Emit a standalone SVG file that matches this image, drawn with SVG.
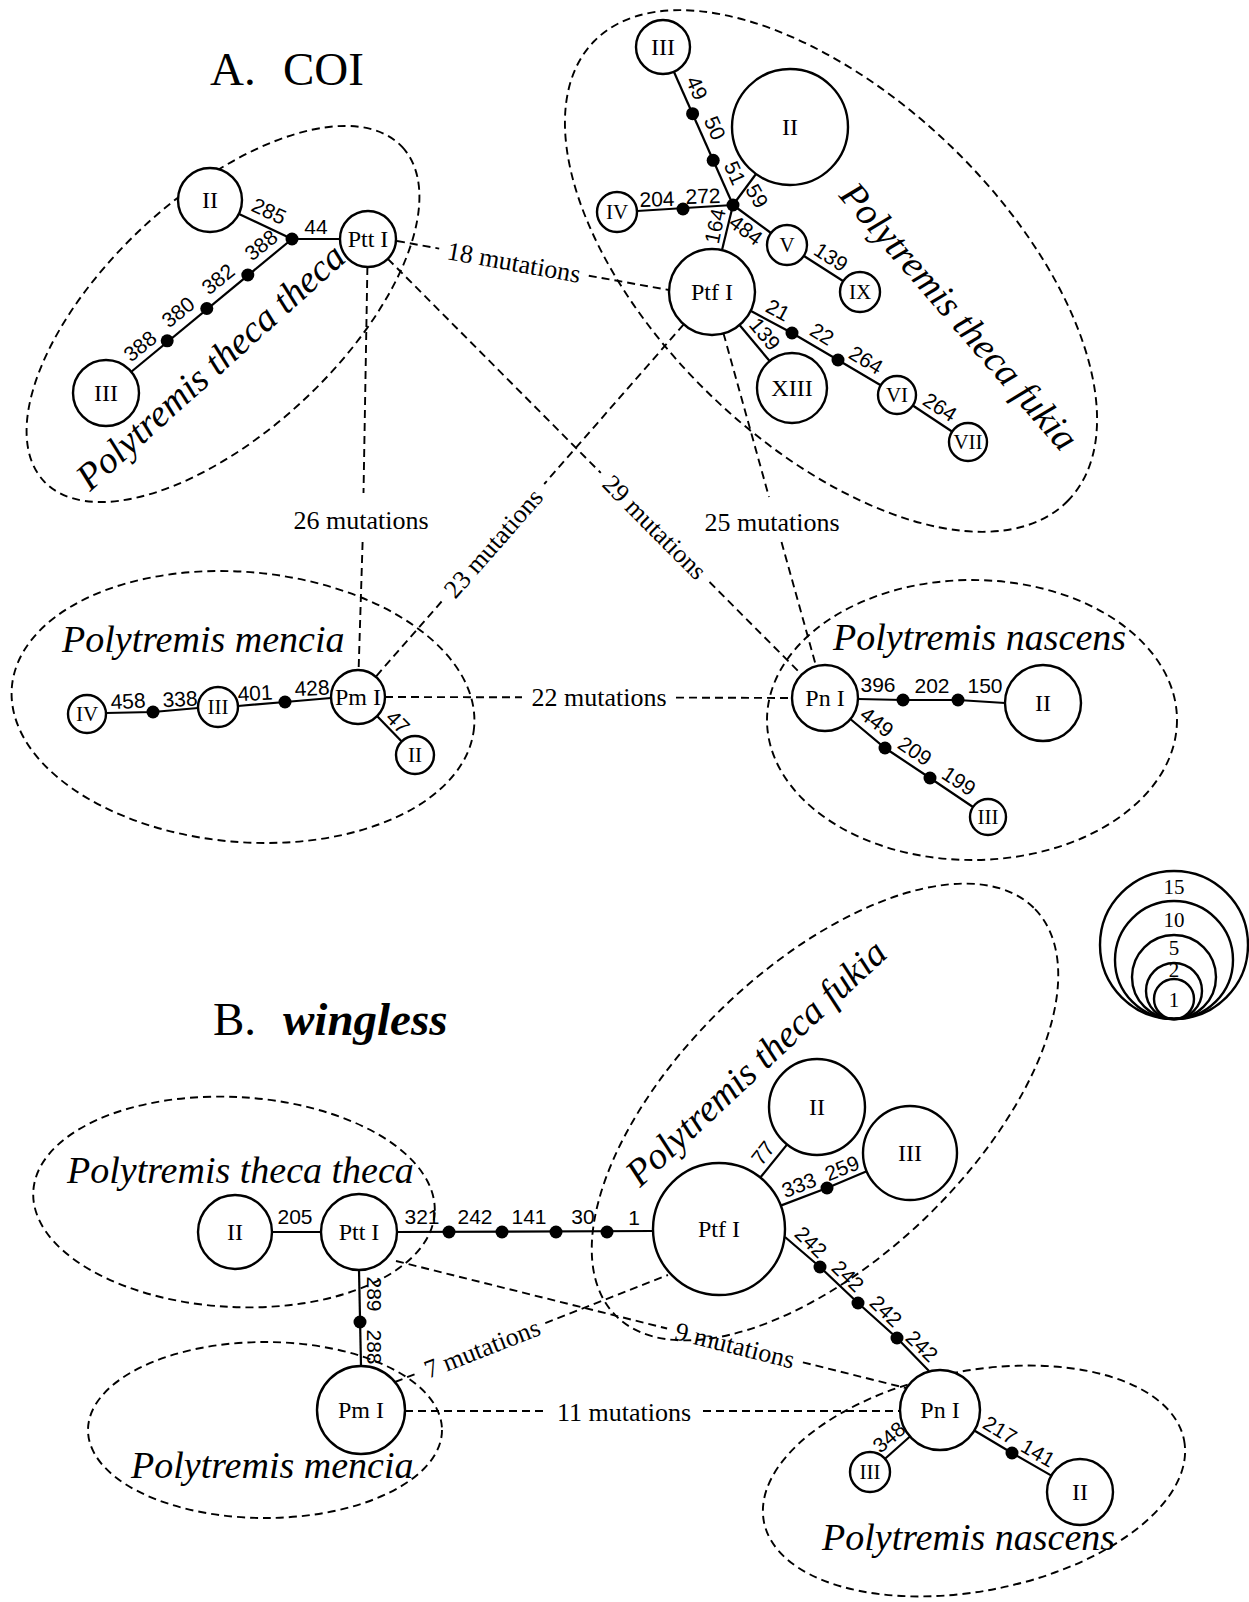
<svg xmlns="http://www.w3.org/2000/svg" width="1249" height="1602" viewBox="0 0 1249 1602">
<style>
.node{fill:#fff;stroke:#000;stroke-width:2.4}
.ring{fill:none;stroke:#000;stroke-width:2.4}
.dot{fill:#000}
.edge{stroke:#000;stroke-width:2.2;fill:none}
.dash{stroke:#000;stroke-width:1.9;stroke-dasharray:8 5;fill:none}
.grp{fill:none;stroke:#000;stroke-width:1.9;stroke-dasharray:8 5}
.nl{font-family:"Liberation Serif",serif;font-size:24px;text-anchor:middle}
.ns{font-family:"Liberation Serif",serif;font-size:21px;text-anchor:middle}
.ml{font-family:"Liberation Sans",sans-serif;font-size:21px;text-anchor:middle}
.mut{font-family:"Liberation Serif",serif;font-size:26px;text-anchor:middle}
.sp{font-family:"Liberation Serif",serif;font-size:38px;font-style:italic}
.title{font-family:"Liberation Serif",serif;font-size:47px}
.lg{font-family:"Liberation Serif",serif;font-size:21px;text-anchor:middle}
</style>
<rect width="1249" height="1602" fill="#fff"/>

<!-- titles -->
<text class="title" x="210" y="85">A.<tspan x="283">COI</tspan></text>
<text class="title" x="213" y="1035">B.<tspan x="283" font-weight="bold" font-style="italic">wingless</tspan></text>

<!-- group ellipses -->
<g id="groups">
<ellipse class="grp" cx="223" cy="314" rx="245" ry="118" transform="rotate(-43 223 314)"/>
<ellipse class="grp" cx="831" cy="271" rx="330" ry="173" transform="rotate(44 831 271)"/>
<ellipse class="grp" cx="243" cy="707" rx="232" ry="135" transform="rotate(5 243 707)"/>
<ellipse class="grp" cx="972" cy="720" rx="205" ry="140"/>
<ellipse class="grp" cx="234" cy="1202" rx="201" ry="105" transform="rotate(3 234 1202)"/>
<ellipse class="grp" cx="825" cy="1112" rx="292" ry="146" transform="rotate(-44 825 1112)"/>
<ellipse class="grp" cx="265" cy="1430" rx="177" ry="88"/>
<ellipse class="grp" cx="974" cy="1481" rx="214" ry="110" transform="rotate(-11 974 1481)"/>
</g>

<!-- species labels -->
<g id="species">
<text class="sp" transform="translate(90 492) rotate(-42)">Polytremis theca theca</text>
<text class="sp" transform="translate(838 196) rotate(49)">Polytremis theca fukia</text>
<text class="sp" x="62" y="652">Polytremis mencia</text>
<text class="sp" x="833" y="650">Polytremis nascens</text>
<text class="sp" x="67" y="1183">Polytremis theca theca</text>
<text class="sp" font-size="46" transform="translate(640 1188) rotate(-43)">Polytremis theca fukia</text>
<text class="sp" x="131" y="1478">Polytremis mencia</text>
<text class="sp" x="822" y="1550">Polytremis nascens</text>
</g>

<!-- connectors -->
<g id="connectors">
<!-- A solid -->
<line class="edge" x1="239" y1="214" x2="292" y2="239"/>
<line class="edge" x1="292" y1="239" x2="340" y2="239"/>
<line class="edge" x1="292" y1="239" x2="131" y2="372"/>
<line class="edge" x1="674" y1="72" x2="733" y2="205"/>
<line class="edge" x1="756" y1="174" x2="733" y2="205"/>
<line class="edge" x1="637" y1="211" x2="733" y2="205"/>
<line class="edge" x1="733" y1="205" x2="722" y2="250"/>
<line class="edge" x1="733" y1="205" x2="771" y2="233"/>
<line class="edge" x1="804" y1="256" x2="843" y2="281"/>
<polyline class="edge" points="751,311 792,333 838,360 880.7,385.3"/>
<line class="edge" x1="912.8" y1="405.5" x2="952" y2="431.5"/>
<line class="edge" x1="739.5" y1="325" x2="769.6" y2="361"/>
<polyline class="edge" points="106,713 153,712 198,708"/>
<polyline class="edge" points="238,706 285,702 331,698"/>
<line class="edge" x1="377" y1="716" x2="401.7" y2="741.5"/>
<polyline class="edge" points="858,699 903,700 958,700 1005,703"/>
<polyline class="edge" points="850.3,719 885,748 930,778 973,807"/>
<!-- A dashed -->
<line class="dash" x1="397" y1="241" x2="439.2" y2="248.6"/>
<line class="dash" x1="588.8" y1="275.7" x2="669" y2="290"/>
<line class="dash" x1="367.4" y1="267" x2="363.5" y2="493"/>
<line class="dash" x1="362.6" y1="542" x2="358.6" y2="670"/>
<line class="dash" x1="387.8" y1="258.8" x2="600.8" y2="472.9"/>
<line class="dash" x1="709.5" y1="582" x2="801.7" y2="674.6"/>
<line class="dash" x1="683.7" y1="324.4" x2="544.2" y2="484"/>
<line class="dash" x1="441.6" y1="601.5" x2="375.8" y2="676.7"/>
<line class="dash" x1="723.5" y1="333.4" x2="769" y2="497"/>
<line class="dash" x1="781.5" y1="542" x2="816.1" y2="666.2"/>
<line class="dash" x1="385" y1="697" x2="522" y2="697.3"/>
<line class="dash" x1="676" y1="697.6" x2="792" y2="698"/>
<!-- B solid -->
<line class="edge" x1="272" y1="1232" x2="321" y2="1232"/>
<line class="edge" x1="397" y1="1232" x2="653" y2="1231"/>
<line class="edge" x1="359" y1="1270" x2="361" y2="1366"/>
<line class="edge" x1="760.3" y1="1177.5" x2="787" y2="1144.6"/>
<polyline class="edge" points="780.7,1205.6 827,1188 866.7,1171.3"/>
<polyline class="edge" points="785,1237 820,1267 858,1303 897,1338 929,1371"/>
<line class="edge" x1="910" y1="1436.5" x2="885" y2="1458.7"/>
<polyline class="edge" points="974.3,1430.5 1012,1453 1051.4,1475.6"/>
<!-- B dashed -->
<line class="dash" x1="396" y1="1261" x2="667.1" y2="1328.5"/>
<line class="dash" x1="802.9" y1="1362.3" x2="906" y2="1388"/>
<line class="dash" x1="395" y1="1382" x2="418.6" y2="1372.7"/>
<line class="dash" x1="545.3" y1="1323.1" x2="668" y2="1275"/>
<line class="dash" x1="405" y1="1411" x2="545" y2="1411"/>
<line class="dash" x1="703" y1="1411" x2="900" y2="1411"/>
</g>

<!-- mutation dots -->
<g id="mutation-dots">
<circle class="dot" cx="292" cy="239" r="6.5"/>
<circle class="dot" cx="247.8" cy="275" r="6.5"/>
<circle class="dot" cx="206.8" cy="308.5" r="6.5"/>
<circle class="dot" cx="167.2" cy="340.8" r="6.5"/>
<circle class="dot" cx="692.6" cy="113.7" r="6.5"/>
<circle class="dot" cx="713.2" cy="160.3" r="6.5"/>
<circle class="dot" cx="733" cy="205" r="6.5"/>
<circle class="dot" cx="683" cy="209" r="6.5"/>
<circle class="dot" cx="792" cy="333" r="6.5"/>
<circle class="dot" cx="838" cy="360" r="6.5"/>
<circle class="dot" cx="153" cy="712" r="6.5"/>
<circle class="dot" cx="285" cy="702" r="6.5"/>
<circle class="dot" cx="903" cy="700" r="6.5"/>
<circle class="dot" cx="958" cy="700" r="6.5"/>
<circle class="dot" cx="885" cy="748" r="6.5"/>
<circle class="dot" cx="930" cy="778" r="6.5"/>
<circle class="dot" cx="449" cy="1232" r="6.5"/>
<circle class="dot" cx="502" cy="1232" r="6.5"/>
<circle class="dot" cx="556" cy="1232" r="6.5"/>
<circle class="dot" cx="607" cy="1232" r="6.5"/>
<circle class="dot" cx="360" cy="1322" r="6.5"/>
<circle class="dot" cx="827" cy="1188" r="6.5"/>
<circle class="dot" cx="820" cy="1267" r="6.5"/>
<circle class="dot" cx="858" cy="1303" r="6.5"/>
<circle class="dot" cx="897" cy="1338" r="6.5"/>
<circle class="dot" cx="1012" cy="1453" r="6.5"/>
</g>

<!-- mutation position labels -->
<g id="positions" class="ml">
<text transform="translate(269 211) rotate(25)" dy="0.35em">285</text>
<text transform="translate(316 227)" dy="0.35em">44</text>
<text transform="translate(261 245) rotate(-39)" dy="0.35em">388</text>
<text transform="translate(218 279) rotate(-39)" dy="0.35em">382</text>
<text transform="translate(178 312) rotate(-39)" dy="0.35em">380</text>
<text transform="translate(140 346) rotate(-39)" dy="0.35em">388</text>
<text transform="translate(697 88) rotate(66)" dy="0.35em">49</text>
<text transform="translate(715 128) rotate(66)" dy="0.35em">50</text>
<text transform="translate(735 173) rotate(66)" dy="0.35em">51</text>
<text transform="translate(757 196) rotate(60)" dy="0.35em">59</text>
<text transform="translate(657 199) rotate(-2)" dy="0.35em">204</text>
<text transform="translate(703 196) rotate(-2)" dy="0.35em">272</text>
<text transform="translate(715 226) rotate(-78)" dy="0.35em">164</text>
<text transform="translate(746 230) rotate(37)" dy="0.35em">484</text>
<text transform="translate(831 257) rotate(33)" dy="0.35em">139</text>
<text transform="translate(778 310) rotate(28)" dy="0.35em">21</text>
<text transform="translate(822 334) rotate(31)" dy="0.35em">22</text>
<text transform="translate(866 360) rotate(31)" dy="0.35em">264</text>
<text transform="translate(940 407) rotate(33)" dy="0.35em">264</text>
<text transform="translate(765 334) rotate(50)" dy="0.35em">139</text>
<text transform="translate(128 701) rotate(-3)" dy="0.35em">458</text>
<text transform="translate(180 699) rotate(-3)" dy="0.35em">338</text>
<text transform="translate(255 693) rotate(-3)" dy="0.35em">401</text>
<text transform="translate(312 688) rotate(-3)" dy="0.35em">428</text>
<text transform="translate(398 722) rotate(45)" dy="0.35em">47</text>
<text transform="translate(878 685)" dy="0.35em">396</text>
<text transform="translate(932 686)" dy="0.35em">202</text>
<text transform="translate(985 686)" dy="0.35em">150</text>
<text transform="translate(877 722) rotate(37)" dy="0.35em">449</text>
<text transform="translate(915 751) rotate(34)" dy="0.35em">209</text>
<text transform="translate(959 781) rotate(34)" dy="0.35em">199</text>
<text transform="translate(295 1217)" dy="0.35em">205</text>
<text transform="translate(422 1217)" dy="0.35em">321</text>
<text transform="translate(475 1217)" dy="0.35em">242</text>
<text transform="translate(529 1217)" dy="0.35em">141</text>
<text transform="translate(583 1217)" dy="0.35em">30</text>
<text transform="translate(634 1218)" dy="0.35em">1</text>
<text transform="translate(374 1294) rotate(90)" dy="0.35em">289</text>
<text transform="translate(374 1347) rotate(90)" dy="0.35em">288</text>
<text transform="translate(763 1153) rotate(-52)" dy="0.35em">77</text>
<text transform="translate(799 1185) rotate(-21)" dy="0.35em">333</text>
<text transform="translate(842 1168) rotate(-22)" dy="0.35em">259</text>
<text transform="translate(811 1242) rotate(44)" dy="0.35em">242</text>
<text transform="translate(848 1276) rotate(44)" dy="0.35em">242</text>
<text transform="translate(886 1311) rotate(44)" dy="0.35em">242</text>
<text transform="translate(922 1346) rotate(44)" dy="0.35em">242</text>
<text transform="translate(889 1437) rotate(-41)" dy="0.35em">348</text>
<text transform="translate(1000 1430) rotate(31)" dy="0.35em">217</text>
<text transform="translate(1038 1453) rotate(30)" dy="0.35em">141</text>
</g>

<!-- mutation count labels -->
<g id="mutation-counts" class="mut">
<text transform="translate(514 262) rotate(10.2)" dy="0.35em">18 mutations</text>
<text transform="translate(361 520)" dy="0.35em">26 mutations</text>
<text transform="translate(655 527) rotate(45.1)" dy="0.35em">29 mutations</text>
<text transform="translate(493 543) rotate(-48.8)" dy="0.35em">23 mutations</text>
<text transform="translate(772 522)" dy="0.35em">25 mutations</text>
<text transform="translate(599 697)" dy="0.35em">22 mutations</text>
<text transform="translate(735 1345) rotate(14)" dy="0.35em">9 mutations</text>
<text transform="translate(482 1348) rotate(-21.4)" dy="0.35em">7 mutations</text>
<text transform="translate(624 1412)" dy="0.35em">11 mutations</text>
</g>

<!-- nodes A -->
<g id="A-Ptt-II"><circle class="node" cx="210" cy="200" r="32"/><text class="nl" x="210" y="208">II</text></g>
<g id="A-Ptt-I"><circle class="node" cx="368" cy="239" r="28"/><text class="nl" x="368" y="247">Ptt I</text></g>
<g id="A-Ptt-III"><circle class="node" cx="106" cy="393" r="33"/><text class="nl" x="106" y="401">III</text></g>
<g id="A-Ptf-III"><circle class="node" cx="663" cy="47" r="27"/><text class="nl" x="663" y="55">III</text></g>
<g id="A-Ptf-II"><circle class="node" cx="790" cy="127" r="58"/><text class="nl" x="790" y="135">II</text></g>
<g id="A-Ptf-IV"><circle class="node" cx="617" cy="212" r="20"/><text class="ns" x="617" y="219">IV</text></g>
<g id="A-Ptf-V"><circle class="node" cx="787" cy="245" r="20"/><text class="ns" x="787" y="252">V</text></g>
<g id="A-Ptf-IX"><circle class="node" cx="860" cy="292" r="20"/><text class="ns" x="860" y="299">IX</text></g>
<g id="A-Ptf-I"><circle class="node" cx="712" cy="292" r="43"/><text class="nl" x="712" y="300">Ptf I</text></g>
<g id="A-Ptf-XIII"><circle class="node" cx="792" cy="388" r="35"/><text class="nl" x="792" y="396">XIII</text></g>
<g id="A-Ptf-VI"><circle class="node" cx="897" cy="395" r="19"/><text class="ns" x="897" y="402">VI</text></g>
<g id="A-Ptf-VII"><circle class="node" cx="968" cy="442" r="19"/><text class="ns" x="968" y="449">VII</text></g>
<g id="A-Pm-I"><circle class="node" cx="358" cy="697" r="27"/><text class="nl" x="358" y="705">Pm I</text></g>
<g id="A-Pm-III"><circle class="node" cx="218" cy="707" r="20"/><text class="ns" x="218" y="714">III</text></g>
<g id="A-Pm-IV"><circle class="node" cx="87" cy="714" r="19"/><text class="ns" x="87" y="721">IV</text></g>
<g id="A-Pm-II"><circle class="node" cx="415" cy="755" r="19"/><text class="ns" x="415" y="762">II</text></g>
<g id="A-Pn-I"><circle class="node" cx="825" cy="698" r="33"/><text class="nl" x="825" y="706">Pn I</text></g>
<g id="A-Pn-II"><circle class="node" cx="1043" cy="703" r="38"/><text class="nl" x="1043" y="711">II</text></g>
<g id="A-Pn-III"><circle class="node" cx="988" cy="817" r="18"/><text class="ns" x="988" y="824">III</text></g>

<!-- nodes B -->
<g id="B-Ptt-II"><circle class="node" cx="235" cy="1232" r="37"/><text class="nl" x="235" y="1240">II</text></g>
<g id="B-Ptt-I"><circle class="node" cx="359" cy="1232" r="38"/><text class="nl" x="359" y="1240">Ptt I</text></g>
<g id="B-Pm-I"><circle class="node" cx="361" cy="1410" r="44"/><text class="nl" x="361" y="1418">Pm I</text></g>
<g id="B-Ptf-I"><circle class="node" cx="719" cy="1229" r="66"/><text class="nl" x="719" y="1237">Ptf I</text></g>
<g id="B-Ptf-II"><circle class="node" cx="817" cy="1107" r="48"/><text class="nl" x="817" y="1115">II</text></g>
<g id="B-Ptf-III"><circle class="node" cx="910" cy="1153" r="47"/><text class="nl" x="910" y="1161">III</text></g>
<g id="B-Pn-I"><circle class="node" cx="940" cy="1410" r="40"/><text class="nl" x="940" y="1418">Pn I</text></g>
<g id="B-Pn-III"><circle class="node" cx="870" cy="1472" r="20"/><text class="ns" x="870" y="1479">III</text></g>
<g id="B-Pn-II"><circle class="node" cx="1080" cy="1492" r="33"/><text class="nl" x="1080" y="1500">II</text></g>

<!-- legend -->
<g id="legend">
<circle class="ring" cx="1174" cy="945" r="74"/>
<circle class="ring" cx="1174" cy="960" r="59"/>
<circle class="ring" cx="1174" cy="977" r="42"/>
<circle class="ring" cx="1174" cy="991" r="28"/>
<circle class="ring" cx="1174" cy="999" r="20"/>
<text class="lg" x="1174" y="894">15</text>
<text class="lg" x="1174" y="927">10</text>
<text class="lg" x="1174" y="955" font-size="19">5</text>
<text class="lg" x="1174" y="977" font-size="15">2</text>
<text class="lg" x="1174" y="1007">1</text>
</g>
</svg>
